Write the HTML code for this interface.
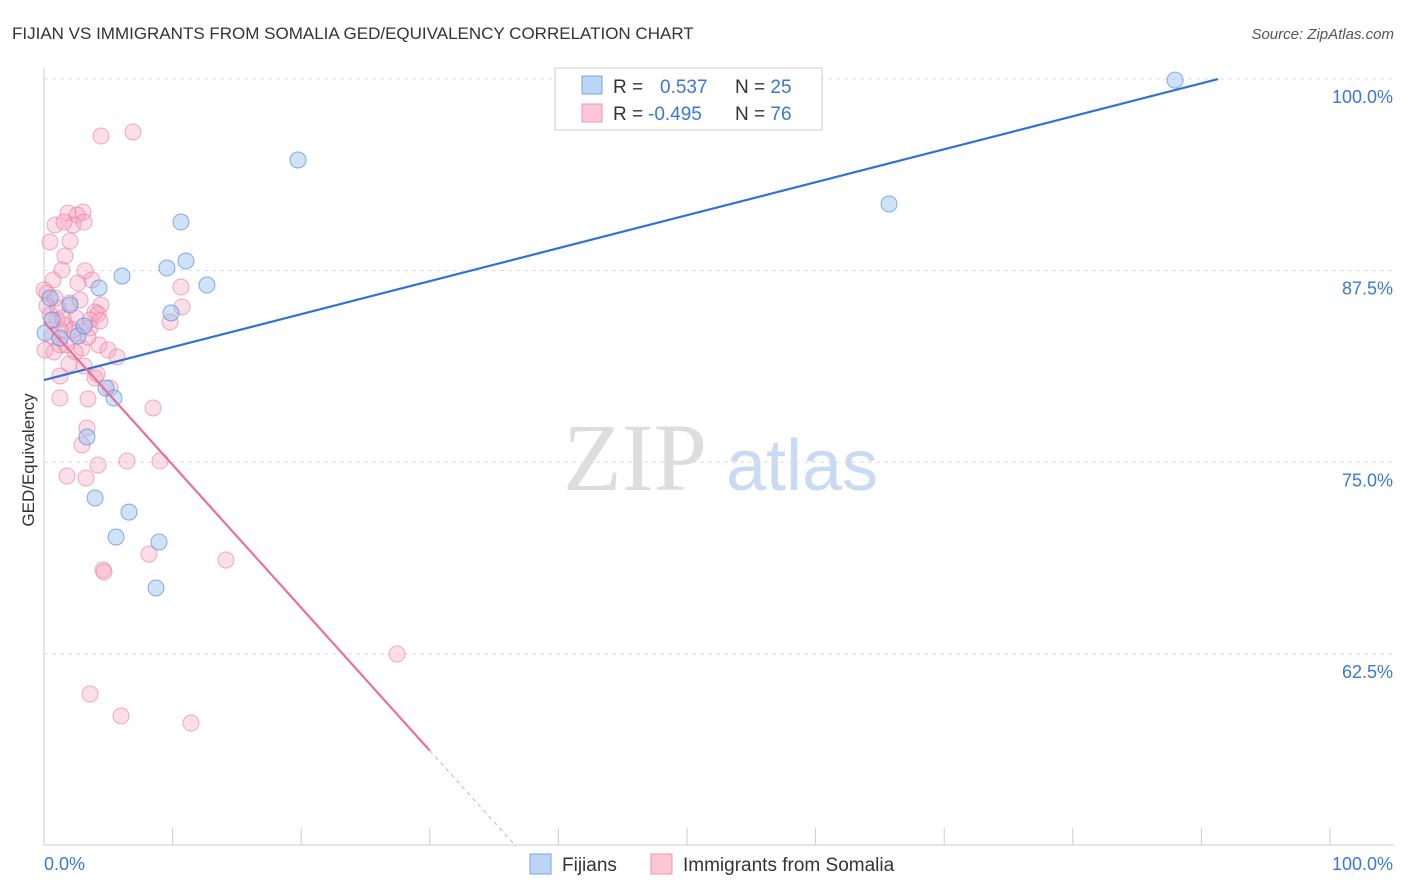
<!DOCTYPE html>
<html><head><meta charset="utf-8"><style>
body{margin:0;background:#fff;font-family:"Liberation Sans",sans-serif}
svg{display:block}
</style></head><body>
<svg id="c" width="1406" height="892" xmlns="http://www.w3.org/2000/svg">
<text x="12" y="39" font-size="17" fill="#333">FIJIAN VS IMMIGRANTS FROM SOMALIA GED/EQUIVALENCY CORRELATION CHART</text>
<text x="1394" y="39" font-size="15" fill="#555" font-style="italic" text-anchor="end">Source: ZipAtlas.com</text>
<text transform="translate(34,460) rotate(-90)" font-size="17" fill="#333" text-anchor="middle">GED/Equivalency</text>
<g><text x="635" y="490" font-size="96" font-family="Liberation Serif,serif" fill="#ddd" text-anchor="middle">ZIP</text><text x="802" y="490" font-size="72" fill="#c9daf2" text-anchor="middle">atlas</text></g>
<g id="grid"></g><g id="axes"></g><g id="pts"></g><g id="lines"></g>
<g>
<rect x="555" y="68" width="267" height="62" fill="#fff" stroke="#ccc"/>
<rect x="582" y="76" width="20" height="18" fill="#bcd4f5" stroke="#7aa5e0"/>
<rect x="582" y="104" width="20" height="18" fill="#fbc7d6" stroke="#ec94b2"/>
<text x="613" y="93" font-size="19" fill="#333">R = <tspan fill="#3a78d4" x="660">0.537</tspan><tspan x="735">N = </tspan><tspan fill="#3a78d4">25</tspan></text>
<text x="613" y="120" font-size="19" fill="#333">R = <tspan fill="#3a78d4" x="648">-0.495</tspan><tspan x="735">N = </tspan><tspan fill="#3a78d4">76</tspan></text>
</g>
<g>
<rect x="530" y="854" width="21" height="20" fill="#bcd4f5" stroke="#7aa5e0"/>
<text x="562" y="871" font-size="19" fill="#333">Fijians</text>
<rect x="651" y="854" width="21" height="20" fill="#fbc7d6" stroke="#ec94b2"/>
<text x="683" y="871" font-size="19" fill="#333">Immigrants from Somalia</text>
</g>
</svg>
<script>
const yTicks=[100,87.5,75,62.5];
const yTickLabels=["100.0%","87.5%","75.0%","62.5%"];
const fijX=[87.95,19.75,65.71,10.65,11.04,9.56,6.07,12.67,4.28,9.88,0.47,2.02,0.08,1.24,2.64,3.11,4.82,5.44,3.34,3.97,6.61,5.60,8.94,8.71,0.62];
const fijY=[99.93,94.72,91.85,90.67,88.13,87.67,87.15,86.56,86.37,84.74,85.71,85.26,83.43,83.10,83.24,83.89,79.84,79.19,76.65,72.67,71.75,70.12,69.80,66.80,84.28];
const somX=[4.43,6.92,1.87,3.03,2.57,0.86,2.26,3.11,1.56,0.47,2.02,1.63,1.40,3.19,3.73,0.70,2.64,0.23,0.86,2.02,4.43,10.65,10.73,3.97,4.20,3.58,2.49,9.80,0.47,1.01,1.63,3.58,1.24,0.62,2.41,1.24,2.95,4.28,4.98,2.41,5.68,1.94,3.11,1.24,3.97,4.12,8.48,1.24,3.42,3.34,2.95,4.20,6.45,9.02,1.79,3.27,8.16,14.15,4.59,4.67,27.45,3.58,5.99,11.43,0.08,0.23,5.13,1.09,1.71,2.80,3.42,0.00,2.26,4.35,0.78,1.48];
const somY=[96.28,96.54,91.26,91.32,91.13,90.48,90.48,90.67,90.67,89.37,89.43,88.45,87.54,87.48,86.89,86.89,86.69,86.04,85.71,85.39,85.26,86.43,85.13,84.80,84.67,84.28,84.41,84.15,84.61,84.28,83.95,83.76,83.63,83.24,83.43,82.65,82.45,82.65,82.32,82.19,81.87,81.41,81.28,80.63,80.50,80.76,78.54,79.19,79.13,77.23,76.13,74.82,75.08,75.08,74.10,73.97,69.01,68.62,67.97,67.84,62.49,59.88,58.45,57.99,82.32,85.19,79.84,85.06,82.65,85.58,83.17,86.24,83.63,84.21,82.19,84.41];
const fijTrend=[80.36,0.2151,91.3];
const somTrend=[84.15,-0.932,30,36.7];
const NS="http://www.w3.org/2000/svg";
const sx=v=>44+v*12.86, sy=v=>79+(100-v)*15.33;
function mk(t,a,p){const e=document.createElementNS(NS,t);for(const k in a)e.setAttribute(k,a[k]);p.appendChild(e);return e;}
const grid=document.getElementById('grid'),axes=document.getElementById('axes'),pts=document.getElementById('pts'),lines=document.getElementById('lines');
yTicks.forEach((t,i)=>{
 const l=mk('line',{x1:44,x2:1394,y1:sy(t),y2:sy(t),stroke:'#ddd','stroke-dasharray':'4,4'},grid);
 
 
 const tx=mk('text',{x:1393,y:sy(t)+24,'font-size':18,fill:'#3a78d4','text-anchor':'end'},axes);
 tx.textContent=yTickLabels[i];
 
 
});
mk('line',{x1:44,x2:44,y1:68,y2:845,stroke:'#ccc'},axes);
mk('line',{x1:44,x2:1394,y1:845,y2:845,stroke:'#ccc'},axes);
for(let i=0;i<=10;i++){const t=mk('line',{x1:sx(i*10),x2:sx(i*10),y1:828,y2:845,stroke:'#ccc'},axes);
 
 }
const xl=mk('text',{x:44,y:870,'font-size':18,fill:'#3a78d4'},axes);xl.textContent='0.0%';


const xr=mk('text',{x:1393,y:870,'font-size':18,fill:'#3a78d4','text-anchor':'end'},axes);xr.textContent='100.0%';


somX.forEach((x,i)=>{const c=mk('circle',{cx:sx(x),cy:sy(somY[i]),r:8,fill:'rgba(245,160,190,0.35)',stroke:'rgba(230,120,160,0.6)'},pts);
 
 });
fijX.forEach((x,i)=>{const c=mk('circle',{cx:sx(x),cy:sy(fijY[i]),r:8,fill:'rgba(150,190,240,0.45)',stroke:'rgba(90,140,215,0.7)'},pts);
 
 });
const bl=mk('line',{x1:sx(0),y1:sy(fijTrend[0]),x2:sx(fijTrend[2]),y2:sy(fijTrend[0]+fijTrend[1]*fijTrend[2]),stroke:'#2f72d6','stroke-width':2.2},lines);


const pl=mk('line',{x1:sx(0),y1:sy(somTrend[0]),x2:sx(somTrend[2]),y2:sy(somTrend[0]+somTrend[1]*somTrend[2]),stroke:'#e8709a','stroke-width':2.2},lines);


const pd=mk('line',{x1:sx(somTrend[2]),y1:sy(somTrend[0]+somTrend[1]*somTrend[2]),x2:sx(somTrend[3]),y2:sy(somTrend[0]+somTrend[1]*somTrend[3]),stroke:'#e8a0b8','stroke-width':1,'stroke-dasharray':'4,4'},lines);


</script>
</body></html>
